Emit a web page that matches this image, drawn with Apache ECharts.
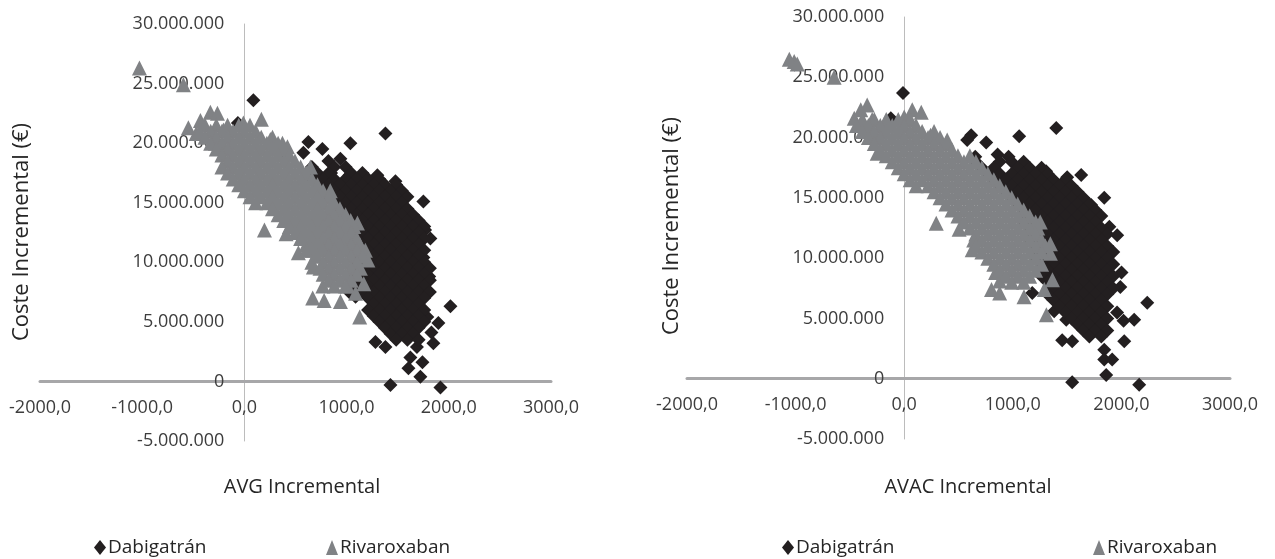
<!DOCTYPE html>
<html>
<head>
<meta charset="utf-8">
<script src="https://cdn.jsdelivr.net/npm/echarts@6/dist/echarts.min.js"></script>
<style>
html,body{margin:0;padding:0;background:#fff;}
#chart{width:1275px;height:559px;}
</style>
</head>
<body>
<div id="chart"></div>
<script>
// ---- Data ----
const seriesNames = ['Dabigatrán', 'Rivaroxaban'];
const xTitles = ['AVG Incremental', 'AVAC Incremental'];
const yTitle = 'Coste Incremental (€)';
const xTicks = [-2000, -1000, 0, 1000, 2000, 3000];
const yTicks = [-5e6, 0, 5e6, 10e6, 15e6, 20e6, 25e6, 30e6];

// Left chart (AVG) – Dabigatrán
const dabAVG = [
[88,23.6e6],[-64,21.7e6],[408,18.9e6],[626,20.1e6],[577,19.2e6],[763,19.5e6],[1037,20.0e6],[1380,20.8e6],[939,18.7e6],[822,18.5e6],
[848,17.5e6],[1028,17.3e6],[1301,17.3e6],[1478,16.8e6],[1546,15.5e6],[1751,15.1e6],[1595,13.3e6],[1768,12.7e6],[1820,12.0e6],[1751,10.4e6],
[1808,8.8e6],[2016,6.3e6],[1898,4.9e6],[1849,3.2e6],[1282,3.3e6],[1380,2.9e6],[1624,2.0e6],[1605,1.1e6],[1742,1.6e6],[1722,0.4e6],
[1429,-0.3e6],[1918,-0.5e6],[1262,5.7e6],[1037,7.4e6],[1088,7.1e6],[1068,8.8e6],[1688,2.9e6],[1830,4.1e6],[1790,5.4e6],
[660,18.0e6],[880,18.0e6],[990,18.0e6],
[715,17.5e6],[825,17.5e6],[1045,17.5e6],[1155,17.5e6],
[660,17.0e6],[770,17.0e6],[880,17.0e6],[990,17.0e6],[1100,17.0e6],[1210,17.0e6],[1320,17.0e6],
[715,16.5e6],[825,16.5e6],[935,16.5e6],[1045,16.5e6],[1155,16.5e6],[1265,16.5e6],[1375,16.5e6],[1485,16.5e6],
[770,16.0e6],[880,16.0e6],[990,16.0e6],[1100,16.0e6],[1210,16.0e6],[1320,16.0e6],[1430,16.0e6],[1540,16.0e6],
[825,15.5e6],[935,15.5e6],[1045,15.5e6],[1155,15.5e6],[1265,15.5e6],[1375,15.5e6],[1485,15.5e6],[1595,15.5e6],
[880,15.0e6],[990,15.0e6],[1100,15.0e6],[1210,15.0e6],[1320,15.0e6],[1430,15.0e6],[1540,15.0e6],
[935,14.5e6],[1045,14.5e6],[1155,14.5e6],[1265,14.5e6],[1375,14.5e6],[1485,14.5e6],[1595,14.5e6],
[990,14.0e6],[1100,14.0e6],[1210,14.0e6],[1320,14.0e6],[1430,14.0e6],[1540,14.0e6],[1650,14.0e6],
[935,13.5e6],[1045,13.5e6],[1155,13.5e6],[1265,13.5e6],[1375,13.5e6],[1485,13.5e6],[1595,13.5e6],[1705,13.5e6],
[990,13.0e6],[1100,13.0e6],[1210,13.0e6],[1320,13.0e6],[1430,13.0e6],[1540,13.0e6],[1650,13.0e6],[1760,13.0e6],
[1045,12.5e6],[1155,12.5e6],[1265,12.5e6],[1375,12.5e6],[1485,12.5e6],[1595,12.5e6],[1705,12.5e6],
[1100,12.0e6],[1210,12.0e6],[1320,12.0e6],[1430,12.0e6],[1540,12.0e6],[1650,12.0e6],[1760,12.0e6],
[1045,11.5e6],[1155,11.5e6],[1265,11.5e6],[1375,11.5e6],[1485,11.5e6],[1595,11.5e6],[1705,11.5e6],
[1100,11.0e6],[1210,11.0e6],[1320,11.0e6],[1430,11.0e6],[1540,11.0e6],[1650,11.0e6],[1760,11.0e6],
[1155,10.5e6],[1265,10.5e6],[1375,10.5e6],[1485,10.5e6],[1595,10.5e6],[1705,10.5e6],
[1100,10.0e6],[1210,10.0e6],[1320,10.0e6],[1430,10.0e6],[1540,10.0e6],[1650,10.0e6],[1760,10.0e6],
[1155,9.5e6],[1265,9.5e6],[1375,9.5e6],[1485,9.5e6],[1595,9.5e6],[1705,9.5e6],[1815,9.5e6],
[1100,9.0e6],[1210,9.0e6],[1320,9.0e6],[1430,9.0e6],[1540,9.0e6],[1650,9.0e6],[1760,9.0e6],
[1045,8.5e6],[1155,8.5e6],[1265,8.5e6],[1375,8.5e6],[1485,8.5e6],[1595,8.5e6],[1705,8.5e6],[1815,8.5e6],
[1100,8.0e6],[1210,8.0e6],[1320,8.0e6],[1430,8.0e6],[1540,8.0e6],[1650,8.0e6],[1760,8.0e6],
[1155,7.5e6],[1265,7.5e6],[1375,7.5e6],[1485,7.5e6],[1595,7.5e6],[1705,7.5e6],[1815,7.5e6],
[1210,7.0e6],[1320,7.0e6],[1430,7.0e6],[1540,7.0e6],[1650,7.0e6],[1760,7.0e6],
[1265,6.5e6],[1375,6.5e6],[1485,6.5e6],[1595,6.5e6],[1705,6.5e6],
[1210,6.0e6],[1320,6.0e6],[1430,6.0e6],[1540,6.0e6],[1650,6.0e6],[1760,6.0e6],
[1265,5.5e6],[1375,5.5e6],[1485,5.5e6],[1595,5.5e6],[1705,5.5e6],
[1320,5.0e6],[1430,5.0e6],[1540,5.0e6],[1650,5.0e6],[1760,5.0e6],
[1375,4.5e6],[1485,4.5e6],[1595,4.5e6],[1705,4.5e6],
[1430,4.0e6],[1540,4.0e6],[1650,4.0e6],
[1485,3.5e6],[1595,3.5e6],[1705,3.5e6]
];

// Left chart (AVG) – Rivaroxaban
const rivAVG = [
[-1027,26.3e6],[-597,24.9e6],[-548,21.3e6],[-430,21.9e6],[-333,22.6e6],[-264,22.5e6],[-205,21.1e6],[-284,20.0e6],[-10,21.7e6],[166,22.0e6],
[254,20.3e6],[372,20.0e6],[421,19.7e6],[646,18.0e6],[196,12.7e6],[1106,13.3e6],[1184,11.0e6],[1208,10.2e6],[1168,8.2e6],[1088,7.4e6],
[668,7.0e6],[780,6.8e6],[940,6.7e6],[1128,5.4e6],[1008,8.0e6],[408,12.4e6],[528,10.8e6],[675,9.6e6],[768,8.0e6],[-472,20.8e6],
[-385,21.5e6],[-275,21.5e6],[-165,21.5e6],[-55,21.5e6],[55,21.5e6],
[-440,21.0e6],[-330,21.0e6],[-220,21.0e6],[-110,21.0e6],[0,21.0e6],[110,21.0e6],
[-385,20.5e6],[-275,20.5e6],[-165,20.5e6],[-55,20.5e6],[55,20.5e6],[165,20.5e6],[275,20.5e6],
[-330,20.0e6],[-220,20.0e6],[-110,20.0e6],[0,20.0e6],[110,20.0e6],[220,20.0e6],[330,20.0e6],
[-275,19.5e6],[-165,19.5e6],[-55,19.5e6],[55,19.5e6],[165,19.5e6],[275,19.5e6],[385,19.5e6],
[-220,19.0e6],[-110,19.0e6],[0,19.0e6],[110,19.0e6],[220,19.0e6],[330,19.0e6],[440,19.0e6],
[-165,18.5e6],[-55,18.5e6],[55,18.5e6],[165,18.5e6],[275,18.5e6],[385,18.5e6],[495,18.5e6],
[-220,18.0e6],[-110,18.0e6],[0,18.0e6],[110,18.0e6],[220,18.0e6],[330,18.0e6],[440,18.0e6],[550,18.0e6],
[-165,17.5e6],[-55,17.5e6],[55,17.5e6],[165,17.5e6],[275,17.5e6],[385,17.5e6],[495,17.5e6],[605,17.5e6],
[-110,17.0e6],[0,17.0e6],[110,17.0e6],[220,17.0e6],[330,17.0e6],[440,17.0e6],[550,17.0e6],[660,17.0e6],
[-55,16.5e6],[55,16.5e6],[165,16.5e6],[275,16.5e6],[385,16.5e6],[495,16.5e6],[605,16.5e6],[715,16.5e6],
[0,16.0e6],[110,16.0e6],[220,16.0e6],[330,16.0e6],[440,16.0e6],[550,16.0e6],[660,16.0e6],[770,16.0e6],[840,16.0e6],
[55,15.5e6],[165,15.5e6],[275,15.5e6],[385,15.5e6],[495,15.5e6],[605,15.5e6],[715,15.5e6],[825,15.5e6],
[110,15.0e6],[220,15.0e6],[330,15.0e6],[440,15.0e6],[550,15.0e6],[660,15.0e6],[770,15.0e6],[880,15.0e6],
[275,14.5e6],[385,14.5e6],[495,14.5e6],[605,14.5e6],[715,14.5e6],[825,14.5e6],[935,14.5e6],
[330,14.0e6],[440,14.0e6],[550,14.0e6],[660,14.0e6],[770,14.0e6],[880,14.0e6],[990,14.0e6],
[385,13.5e6],[495,13.5e6],[605,13.5e6],[715,13.5e6],[825,13.5e6],[935,13.5e6],[1040,13.5e6],
[440,13.0e6],[550,13.0e6],[660,13.0e6],[770,13.0e6],[880,13.0e6],[990,13.0e6],[1070,13.0e6],
[495,12.5e6],[605,12.5e6],[715,12.5e6],[825,12.5e6],[935,12.5e6],[1045,12.5e6],
[550,12.0e6],[660,12.0e6],[770,12.0e6],[880,12.0e6],[990,12.0e6],[1100,12.0e6],
[605,11.5e6],[715,11.5e6],[825,11.5e6],[935,11.5e6],[1045,11.5e6],[1130,11.5e6],
[610,11.0e6],[660,11.0e6],[770,11.0e6],[880,11.0e6],[990,11.0e6],[1100,11.0e6],
[715,10.5e6],[825,10.5e6],[935,10.5e6],[1045,10.5e6],[1155,10.5e6],
[660,10.0e6],[770,10.0e6],[880,10.0e6],[990,10.0e6],[1100,10.0e6],
[740,9.5e6],[825,9.5e6],[935,9.5e6],[1045,9.5e6],[1135,9.5e6],
[770,9.0e6],[880,9.0e6],[990,9.0e6],[1100,9.0e6],
[825,8.5e6],[935,8.5e6],[1045,8.5e6],
[880,8.0e6],[990,8.0e6]
];

// Right chart (AVAC) – Dabigatrán
const dabAVAC = [
[-11,23.7e6],[-123,21.6e6],[617,20.2e6],[580,19.8e6],[755,19.6e6],[1059,20.1e6],[1400,20.8e6],[654,18.4e6],[860,18.6e6],[961,18.4e6],
[1047,17.4e6],[1307,17.2e6],[1501,16.7e6],[1630,16.9e6],[1590,15.4e6],[1842,15.0e6],[1722,14.4e6],[1777,13.2e6],[1889,12.6e6],[1961,11.9e6],
[1906,10.4e6],[2001,8.8e6],[2238,6.3e6],[2118,4.9e6],[2020,4.8e6],[2026,3.1e6],[1842,2.4e6],[1842,1.6e6],[1915,1.6e6],[1860,0.3e6],
[1547,-0.3e6],[2164,-0.5e6],[1455,3.2e6],[1547,3.1e6],[1492,4.9e6],[1381,5.6e6],[1179,7.1e6],[1960,5.5e6],[1990,7.6e6],
[660,18.0e6],[880,18.0e6],[990,18.0e6],[1100,18.0e6],
[715,17.5e6],[825,17.5e6],[1045,17.5e6],[1155,17.5e6],[1265,17.5e6],
[770,17.0e6],[880,17.0e6],[990,17.0e6],[1100,17.0e6],[1210,17.0e6],[1320,17.0e6],
[825,16.5e6],[935,16.5e6],[1045,16.5e6],[1155,16.5e6],[1265,16.5e6],[1375,16.5e6],[1485,16.5e6],
[880,16.0e6],[990,16.0e6],[1100,16.0e6],[1210,16.0e6],[1320,16.0e6],[1430,16.0e6],[1540,16.0e6],
[935,15.5e6],[1045,15.5e6],[1155,15.5e6],[1265,15.5e6],[1375,15.5e6],[1485,15.5e6],[1595,15.5e6],
[990,15.0e6],[1100,15.0e6],[1210,15.0e6],[1320,15.0e6],[1430,15.0e6],[1540,15.0e6],[1650,15.0e6],
[1045,14.5e6],[1155,14.5e6],[1265,14.5e6],[1375,14.5e6],[1485,14.5e6],[1595,14.5e6],[1705,14.5e6],
[1100,14.0e6],[1210,14.0e6],[1320,14.0e6],[1430,14.0e6],[1540,14.0e6],[1650,14.0e6],[1760,14.0e6],
[1155,13.5e6],[1265,13.5e6],[1375,13.5e6],[1485,13.5e6],[1595,13.5e6],[1705,13.5e6],[1815,13.5e6],
[1100,13.0e6],[1210,13.0e6],[1320,13.0e6],[1430,13.0e6],[1540,13.0e6],[1650,13.0e6],[1760,13.0e6],
[1155,12.5e6],[1265,12.5e6],[1375,12.5e6],[1485,12.5e6],[1595,12.5e6],[1705,12.5e6],[1815,12.5e6],
[1210,12.0e6],[1320,12.0e6],[1430,12.0e6],[1540,12.0e6],[1650,12.0e6],[1760,12.0e6],[1870,12.0e6],
[1155,11.5e6],[1265,11.5e6],[1375,11.5e6],[1485,11.5e6],[1595,11.5e6],[1705,11.5e6],[1815,11.5e6],
[1210,11.0e6],[1320,11.0e6],[1430,11.0e6],[1540,11.0e6],[1650,11.0e6],[1760,11.0e6],[1870,11.0e6],
[1265,10.5e6],[1375,10.5e6],[1485,10.5e6],[1595,10.5e6],[1705,10.5e6],[1815,10.5e6],[1925,10.5e6],
[1210,10.0e6],[1320,10.0e6],[1430,10.0e6],[1540,10.0e6],[1650,10.0e6],[1760,10.0e6],[1870,10.0e6],
[1265,9.5e6],[1375,9.5e6],[1485,9.5e6],[1595,9.5e6],[1705,9.5e6],[1815,9.5e6],[1925,9.5e6],
[1320,9.0e6],[1430,9.0e6],[1540,9.0e6],[1650,9.0e6],[1760,9.0e6],[1870,9.0e6],
[1265,8.5e6],[1375,8.5e6],[1485,8.5e6],[1595,8.5e6],[1705,8.5e6],[1815,8.5e6],[1925,8.5e6],
[1320,8.0e6],[1430,8.0e6],[1540,8.0e6],[1650,8.0e6],[1760,8.0e6],[1870,8.0e6],
[1375,7.5e6],[1485,7.5e6],[1595,7.5e6],[1705,7.5e6],[1815,7.5e6],[1925,7.5e6],
[1320,7.0e6],[1430,7.0e6],[1540,7.0e6],[1650,7.0e6],[1760,7.0e6],[1870,7.0e6],
[1375,6.5e6],[1485,6.5e6],[1595,6.5e6],[1705,6.5e6],[1815,6.5e6],
[1430,6.0e6],[1540,6.0e6],[1650,6.0e6],[1760,6.0e6],[1870,6.0e6],
[1485,5.5e6],[1595,5.5e6],[1705,5.5e6],[1815,5.5e6],
[1540,5.0e6],[1650,5.0e6],[1760,5.0e6],[1870,5.0e6],
[1595,4.5e6],[1705,4.5e6],[1815,4.5e6],
[1650,4.0e6],[1760,4.0e6],[1870,4.0e6],
[1705,3.5e6],[1815,3.5e6]
];

// Right chart (AVAC) – Rivaroxaban
const rivAVAC = [
[-1013,26.3e6],[-1058,26.5e6],[-985,26.1e6],[-645,25.0e6],[-460,21.6e6],[-400,22.3e6],[-341,22.7e6],[-295,21.5e6],[-184,21.1e6],[-355,20.9e6],
[0,21.7e6],[74,22.3e6],[157,22.1e6],[-56,20.5e6],[243,20.2e6],[396,19.8e6],[-249,18.7e6],[295,12.9e6],[506,12.4e6],[626,10.7e6],
[804,7.4e6],[879,7.1e6],[879,8.1e6],[1103,6.8e6],[1309,5.3e6],[1290,7.4e6],[1253,13.0e6],[1346,11.2e6],[1346,10.4e6],[1365,8.2e6],[841,8.8e6],
[-385,21.5e6],[-275,21.5e6],[-165,21.5e6],[-55,21.5e6],[55,21.5e6],
[-440,21.0e6],[-330,21.0e6],[-220,21.0e6],[-110,21.0e6],[0,21.0e6],[110,21.0e6],
[-385,20.5e6],[-275,20.5e6],[-165,20.5e6],[-55,20.5e6],[55,20.5e6],[165,20.5e6],[275,20.5e6],
[-330,20.0e6],[-220,20.0e6],[-110,20.0e6],[0,20.0e6],[110,20.0e6],[220,20.0e6],[330,20.0e6],
[-275,19.5e6],[-165,19.5e6],[-55,19.5e6],[55,19.5e6],[165,19.5e6],[275,19.5e6],[385,19.5e6],
[-220,19.0e6],[-110,19.0e6],[0,19.0e6],[110,19.0e6],[220,19.0e6],[330,19.0e6],[440,19.0e6],
[-165,18.5e6],[-55,18.5e6],[55,18.5e6],[165,18.5e6],[275,18.5e6],[385,18.5e6],[495,18.5e6],[605,18.5e6],
[-110,18.0e6],[0,18.0e6],[110,18.0e6],[220,18.0e6],[330,18.0e6],[440,18.0e6],[550,18.0e6],[660,18.0e6],
[-55,17.5e6],[55,17.5e6],[165,17.5e6],[275,17.5e6],[385,17.5e6],[495,17.5e6],[605,17.5e6],[715,17.5e6],
[0,17.0e6],[110,17.0e6],[220,17.0e6],[330,17.0e6],[440,17.0e6],[550,17.0e6],[660,17.0e6],[770,17.0e6],
[55,16.5e6],[165,16.5e6],[275,16.5e6],[385,16.5e6],[495,16.5e6],[605,16.5e6],[715,16.5e6],[825,16.5e6],
[110,16.0e6],[220,16.0e6],[330,16.0e6],[440,16.0e6],[550,16.0e6],[660,16.0e6],[770,16.0e6],[880,16.0e6],
[275,15.5e6],[385,15.5e6],[495,15.5e6],[605,15.5e6],[715,15.5e6],[825,15.5e6],[935,15.5e6],
[330,15.0e6],[440,15.0e6],[550,15.0e6],[660,15.0e6],[770,15.0e6],[880,15.0e6],[990,15.0e6],
[385,14.5e6],[495,14.5e6],[605,14.5e6],[715,14.5e6],[825,14.5e6],[935,14.5e6],[1045,14.5e6],
[440,14.0e6],[550,14.0e6],[660,14.0e6],[770,14.0e6],[880,14.0e6],[990,14.0e6],[1100,14.0e6],
[495,13.5e6],[605,13.5e6],[715,13.5e6],[825,13.5e6],[935,13.5e6],[1045,13.5e6],[1155,13.5e6],
[550,13.0e6],[660,13.0e6],[770,13.0e6],[880,13.0e6],[990,13.0e6],[1100,13.0e6],[1210,13.0e6],
[605,12.5e6],[715,12.5e6],[825,12.5e6],[935,12.5e6],[1045,12.5e6],[1155,12.5e6],[1230,12.5e6],
[660,12.0e6],[770,12.0e6],[880,12.0e6],[990,12.0e6],[1100,12.0e6],[1210,12.0e6],
[640,11.5e6],[715,11.5e6],[825,11.5e6],[935,11.5e6],[1045,11.5e6],[1155,11.5e6],[1265,11.5e6],
[660,11.0e6],[770,11.0e6],[880,11.0e6],[990,11.0e6],[1100,11.0e6],[1210,11.0e6],[1300,11.0e6],
[715,10.5e6],[825,10.5e6],[935,10.5e6],[1045,10.5e6],[1155,10.5e6],[1265,10.5e6],
[770,10.0e6],[880,10.0e6],[990,10.0e6],[1100,10.0e6],[1210,10.0e6],
[825,9.5e6],[935,9.5e6],[1045,9.5e6],[1155,9.5e6],[1265,9.5e6],
[880,9.0e6],[990,9.0e6],[1100,9.0e6],[1210,9.0e6],
[935,8.5e6],[1045,8.5e6],[1155,8.5e6],
[990,8.0e6],[1100,8.0e6]
];

// ---- Chart ----
const FONT = '"Open Sans", "Noto Sans", sans-serif';
const TXT = '#3d3d3d';
const DAB_COLOR = '#231f20';
const RIV_COLOR = '#808285';

const fmtX = v => v.toFixed(1).replace('.', ',');
const fmtY = v => {
  if (v === 0) return '0';
  const s = Math.abs(v).toFixed(0).replace(/\B(?=(\d{3})+(?!\d))/g, '.');
  return (v < 0 ? '-' : '') + s;
};

const grids = [
  {left: 40, top: 24, width: 511, height: 417},
  {left: 687, top: 17, width: 543, height: 422}
];
const xMin = xTicks[0], xMax = xTicks[xTicks.length - 1];
const yMin = yTicks[0], yMax = yTicks[yTicks.length - 1];

// Axes cross at zero: shift each axis from the grid edge to the other axis' zero.
function xAxis(i) {
  const g = grids[i];
  return {
    gridIndex: i, type: 'value', position: 'bottom',
    min: xMin, max: xMax, interval: 1000,
    offset: -g.height * (0 - yMin) / (yMax - yMin),
    axisLine: {show: true, onZero: false, lineStyle: {color: '#a7a7a9', width: 3}},
    axisTick: {show: false}, splitLine: {show: false},
    axisLabel: {margin: 17, fontSize: 18, color: TXT, fontFamily: FONT, formatter: fmtX}
  };
}
function yAxis(i) {
  const g = grids[i];
  return {
    gridIndex: i, type: 'value', position: 'left',
    min: yMin, max: yMax, interval: 5e6,
    offset: -g.width * (0 - xMin) / (xMax - xMin),
    axisLine: {show: true, onZero: false, lineStyle: {color: '#bcbcbc', width: 1}},
    axisTick: {show: false}, splitLine: {show: false},
    axisLabel: {margin: 20, fontSize: 18, color: TXT, fontFamily: FONT, formatter: fmtY}
  };
}
function scatter(name, i, data, symbol, size, color) {
  return {
    name, type: 'scatter', xAxisIndex: i, yAxisIndex: i, data,
    symbol, symbolSize: size, itemStyle: {color, opacity: 1},
    emphasis: {disabled: true}, animation: false
  };
}
function legend(name, left, icon) {
  return {
    data: [{name, icon}], left, top: 533, itemWidth: 12, itemHeight: 15, itemGap: 6,
    textStyle: {fontSize: 19, color: '#262626', fontFamily: FONT, padding: [0, 0, 0, -3]},
    selectedMode: false
  };
}
function label(text, x, y, rot) {
  return {
    type: 'text', x, y, rotation: rot || 0,
    style: {text, fontSize: rot ? 22 : 20, fontFamily: FONT, fill: '#262626',
            align: 'center', verticalAlign: 'middle', textAlign: 'center', textVerticalAlign: 'middle'}
  };
}

const chart = echarts.init(document.getElementById('chart'), null, {renderer: 'canvas'});
chart.setOption({
  backgroundColor: '#ffffff',
  animation: false,
  grid: grids.map(g => Object.assign({containLabel: false, outerBoundsMode: 'none'}, g)),
  xAxis: [xAxis(0), xAxis(1)],
  yAxis: [yAxis(0), yAxis(1)],
  legend: [
    legend(seriesNames[0], 89, 'diamond'), legend(seriesNames[1], 321, 'triangle'),
    legend(seriesNames[0], 777, 'diamond'), legend(seriesNames[1], 1088, 'triangle')
  ],
  graphic: [
    label(yTitle, 22, 232, Math.PI / 2),
    label(yTitle, 672, 226, Math.PI / 2),
    label(xTitles[0], 302, 487),
    label(xTitles[1], 968, 487)
  ],
  series: [
    scatter(seriesNames[0], 0, dabAVG, 'diamond', 14, DAB_COLOR),
    scatter(seriesNames[1], 0, rivAVG, 'triangle', 15, RIV_COLOR),
    scatter(seriesNames[0], 1, dabAVAC, 'diamond', 14, DAB_COLOR),
    scatter(seriesNames[1], 1, rivAVAC, 'triangle', 15, RIV_COLOR)
  ]
});
</script>
</body>
</html>
